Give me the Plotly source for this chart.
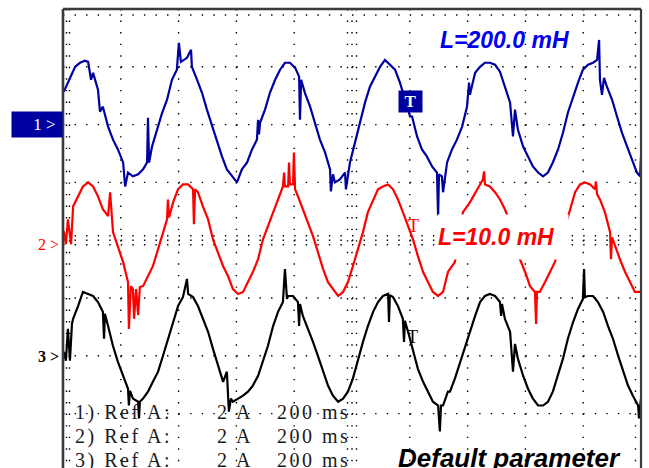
import plotly.graph_objects as go

# ---------------- data ----------------
# time in ms (200 ms/div), current in A (2 A/div)
t_ch1 = [3,24,42,59,76,87,97,104,121,128,138,156,173,190,208,215,225,242,260,277,291,294,298,308,325,343,360,377,394,401,408,429,443,446,464,481,498,516,533,550,567,585,602,619,637,654,671,675,678,682,699,716,734,751,768,785,803,817,820,824,837,855,872,889,907,924,927,934,941,958,976,979,993,1010,1028,1045,1062,1080,1097,1114,1131,1149,1166,1183,1201,1208,1225,1242,1259,1277,1294,1298,1301,1311,1315,1329,1346,1363,1381,1398,1405,1408,1426,1443,1460,1477,1495,1512,1529,1547,1557,1564,1574,1592,1609,1626,1644,1661,1678,1695,1713,1730,1747,1765,1782,1799,1817,1834,1848,1855,1858,1865,1872,1882,1900,1917,1934,1952,1969,1986,1997,2000]
i_ch1 = [1.14,1.62,2.00,2.14,2.21,2.17,1.55,1.79,1.21,0.45,0.62,-0.07,-0.52,-0.86,-1.31,-2.14,-1.66,-1.79,-1.72,-1.55,-1.31,0.24,-1.31,-0.76,-0.17,0.41,0.86,1.55,1.90,2.83,2.17,2.31,2.59,2.00,1.55,1.10,0.52,-0.07,-0.62,-1.10,-1.55,-1.79,-2.00,-1.55,-1.31,-0.86,-0.52,0.17,-0.34,0.07,0.52,1.10,1.55,1.90,2.14,2.14,1.97,1.66,0.17,1.55,1.10,0.62,0.07,-0.52,-0.97,-1.55,-2.31,-1.72,-2.00,-1.90,-1.66,-2.24,-1.31,-0.62,0.17,0.76,1.31,1.66,2.00,2.24,2.07,1.90,1.45,0.86,0.28,0.28,-0.41,-0.86,-1.10,-1.45,-1.66,-3.17,-1.72,-1.79,-2.34,-1.31,-0.86,-0.52,-0.07,0.62,1.45,1.03,1.79,2.00,2.14,2.14,2.07,1.83,1.31,0.76,-0.41,0.52,-0.17,-0.76,-1.10,-1.45,-1.66,-1.79,-1.66,-1.31,-0.86,-0.28,0.41,0.97,1.45,1.90,2.07,2.14,2.24,2.93,1.55,1.03,1.62,1.31,0.86,0.28,-0.28,-0.76,-1.21,-1.66,-1.79,-1.10]

t_ch2 = [3,10,17,28,35,52,69,87,104,121,138,156,163,173,190,208,225,228,235,242,246,253,260,266,277,294,311,329,346,360,363,367,381,398,415,433,450,453,457,467,484,502,519,536,554,571,588,606,623,640,657,675,692,709,727,744,761,765,768,779,782,785,796,799,803,813,830,848,865,882,900,917,934,952,969,986,1003,1021,1038,1055,1073,1090,1107,1125,1142,1159,1176,1194,1211,1228,1246,1263,1280,1298,1315,1332,1356,1370,1384,1408,1432,1453,1457,1460,1477,1495,1512,1529,1554,1567,1581,1599,1616,1633,1637,1640,1650,1668,1685,1702,1720,1737,1754,1772,1789,1806,1824,1841,1844,1848,1858,1875,1893,1896,1900,1910,1927,1945,1962,1979,2000]
i_ch2 = [0.31,-0.14,0.72,-0.14,1.17,1.52,1.86,2.00,1.86,1.52,1.07,0.83,1.66,0.28,-0.21,-0.76,-1.45,-3.07,-1.59,-1.69,-2.72,-1.69,-2.59,-1.62,-1.59,-1.24,-0.90,-0.31,0.28,0.72,1.41,0.79,1.31,1.76,1.93,1.93,1.76,0.55,1.76,1.66,1.17,0.72,0.03,-0.41,-0.90,-1.24,-1.69,-1.86,-1.79,-1.45,-1.10,-0.66,0.03,0.48,0.97,1.41,1.86,2.34,1.86,1.86,2.69,1.93,1.93,3.03,1.76,1.52,1.07,0.62,0.14,-0.41,-1.00,-1.45,-1.69,-1.93,-1.79,-1.45,-0.90,-0.31,0.28,0.97,1.41,1.76,1.86,1.93,1.76,1.41,0.97,0.48,0.03,-0.55,-1.10,-1.45,-1.79,-1.93,-1.79,-1.10,-0.76,0.03,0.97,1.31,1.76,2.10,2.38,1.93,1.86,1.66,1.41,1.07,0.45,-0.14,-0.66,-1.10,-1.59,-1.79,-2.90,-1.79,-1.79,-1.45,-1.10,-0.76,-0.14,0.45,0.97,1.66,1.93,2.00,1.93,1.76,2.03,1.59,1.41,0.97,0.28,-0.66,0.10,-0.21,-0.66,-1.10,-1.45,-1.79,-1.79]

t_ch3 = [3,10,17,24,31,35,52,69,87,104,121,138,142,145,156,173,190,208,225,228,232,242,260,263,266,277,294,311,329,346,363,381,398,415,429,433,450,467,484,502,519,536,554,567,571,574,581,588,606,623,640,657,675,692,709,727,744,761,768,775,779,796,813,817,820,830,848,865,882,900,917,934,952,969,986,1003,1021,1038,1055,1073,1090,1107,1125,1128,1131,1142,1159,1176,1180,1183,1194,1211,1228,1246,1263,1280,1298,1304,1308,1315,1332,1339,1356,1374,1391,1408,1426,1443,1460,1477,1495,1512,1516,1519,1529,1547,1557,1564,1574,1592,1609,1626,1644,1661,1678,1695,1713,1730,1747,1765,1782,1799,1803,1806,1817,1834,1851,1869,1886,1903,1921,1938,1955,1972,1990,1993,2000]
i_ch3 = [0.14,-0.17,0.93,-0.17,1.10,1.28,1.72,2.21,2.14,2.07,1.86,1.52,0.59,1.45,1.03,0.34,-0.21,-0.69,-1.14,-1.72,-1.21,-1.48,-1.59,-2.17,-1.59,-1.48,-1.24,-0.90,-0.55,0.00,0.59,1.17,1.72,2.03,2.66,2.14,2.03,1.72,1.28,0.83,0.24,-0.34,-0.90,-0.55,-1.24,-1.93,-1.48,-1.59,-1.48,-1.38,-1.24,-1.03,-0.69,-0.21,0.34,1.03,1.52,1.86,3.00,1.97,2.07,2.07,1.86,1.03,1.79,1.38,0.93,0.48,0.00,-0.55,-1.03,-1.38,-1.59,-1.48,-1.24,-0.79,-0.10,0.48,1.03,1.52,1.86,2.07,2.14,1.17,2.10,2.03,1.72,1.28,0.48,1.21,0.83,0.14,-0.45,-0.90,-1.24,-1.59,-1.72,-2.62,-1.72,-1.72,-1.24,-1.24,-0.79,-0.21,0.34,0.83,1.38,1.86,2.07,2.14,2.07,1.86,1.38,1.79,1.28,0.83,-0.55,0.41,-0.10,-0.69,-1.14,-1.48,-1.72,-1.72,-1.59,-1.24,-0.69,-0.10,0.59,1.17,1.62,1.97,3.00,2.03,2.07,2.07,1.86,1.52,1.03,0.59,0.00,-0.55,-1.03,-1.38,-1.72,-2.17,-1.48]

channel_labels = ["1 >", "2 >", "3 >"]
inductance_labels = ["L=200.0 mH", "L=10.0 mH"]
footer_label = "Default parameter"
ref_rows = [("1) Ref A:", "2 A", "200 ms"),
            ("2) Ref A:", "2 A", "200 ms"),
            ("3) Ref A:", "2 A", "200 ms")]

# ---------------- layout constants ----------------
W, H = 649, 468
PL, PR, PT, PB = 63, 641, 9, 468          # plot area in pixels
DIV = 57.8                                 # pixels per division
A_PER_DIV = 2.0
T_PER_DIV = 200.0
ZERO_DIV = [2, 4, 6]                       # channel ground levels, divisions from top

NAVY = "#0000A0"
RED = "#FF0000"
GRID = "#000000"

def pxx(x):
    return (x - PL) / (PR - PL)

def pxy(y):
    return 1 - (y - PT) / (PB - PT)

def ch_range(zdiv):
    zero_px = PT + zdiv * DIV
    a_per_px = A_PER_DIV / DIV
    return [-(PB - zero_px) * a_per_px, (zero_px - PT) * a_per_px]

fig = go.Figure()
fig.add_trace(go.Scatter(x=t_ch1, y=i_ch1, yaxis="y2", mode="lines",
                         line=dict(color=NAVY, width=2.2), hoverinfo="skip"))
fig.add_trace(go.Scatter(x=t_ch2, y=i_ch2, yaxis="y", mode="lines",
                         line=dict(color=RED, width=2.2), hoverinfo="skip"))
fig.add_trace(go.Scatter(x=t_ch3, y=i_ch3, yaxis="y3", mode="lines",
                         line=dict(color="#000000", width=2.2), hoverinfo="skip"))

hidden = dict(visible=False, showgrid=False, zeroline=False, fixedrange=True)

# ---------------- graticule (dotted) ----------------
minor = DIV / 5
dash = "1.4px,%.2fpx" % (minor - 1.4)
shapes = []

def vline(xp, color=GRID, width=1.4, d=dash, y0=PT, y1=PB):
    shapes.append(dict(type="line", xref="paper", yref="paper",
                       x0=pxx(xp), x1=pxx(xp), y0=pxy(y0), y1=pxy(y1),
                       line=dict(color=color, width=width, dash=d), layer="below"))

def hline(yp, color=GRID, width=1.4, d=dash, x0=PL, x1=PR):
    shapes.append(dict(type="line", xref="paper", yref="paper",
                       x0=pxx(x0), x1=pxx(x1), y0=pxy(yp), y1=pxy(yp),
                       line=dict(color=color, width=width, dash=d), layer="below"))

for k in range(1, 10):
    vline(PL + k * DIV)
for k in range(1, 8):
    hline(PT + k * DIV)
# centre cross ticks
cx, cy = PL + 5 * DIV, PT + 4 * DIV
for off in (-4.5, 4.5):
    vline(cx + off)
    hline(cy + off)
# edge ticks
hline(PT + 6)
vline(PL + 3.5)
vline(PL + 6.5)
vline(PR - 5.5)

# borders
border = "#3a3a3a"
shapes.append(dict(type="line", xref="paper", yref="paper", x0=0, x1=0, y0=-0.05, y1=1,
                   line=dict(color=border, width=2.6)))
shapes.append(dict(type="line", xref="paper", yref="paper", x0=0, x1=1, y0=1, y1=1,
                   line=dict(color=border, width=2.6)))
shapes.append(dict(type="line", xref="paper", yref="paper", x0=1, x1=1, y0=-0.05, y1=1,
                   line=dict(color=border, width=2.2)))

# ---------------- annotations ----------------
anns = []

def ann(text, x, y, **kw):
    d = dict(text=text, x=pxx(x), y=pxy(y), xref="paper", yref="paper",
             showarrow=False)
    d.update(kw)
    anns.append(d)

serif = "Liberation Serif"
sans = "Liberation Sans"

# channel markers
ann(channel_labels[0] + "\u2009", PL, PT + ZERO_DIV[0] * DIV, xanchor="right", yanchor="middle",
    width=44, height=19, borderpad=3, bgcolor=NAVY, align="right",
    font=dict(family=serif, size=17, color="#FFFFFF"))
ann(channel_labels[1], 48, PT + ZERO_DIV[1] * DIV + 4, xanchor="center", yanchor="middle",
    font=dict(family=serif, size=16, color=RED))
ann(channel_labels[2], 48, PT + ZERO_DIV[2] * DIV + 1, xanchor="center", yanchor="middle",
    font=dict(family=serif, size=16, color="#000000", weight="bold"))

# trigger markers
ann("T", 410.5, 102, xanchor="center", yanchor="middle", width=19, height=17, borderpad=2,
    bgcolor=NAVY, font=dict(family=serif, size=17, color="#FFFFFF", weight="bold"))

# inductance labels
ann(inductance_labels[0], 505, 40, xanchor="center", yanchor="middle",
    font=dict(family=sans, size=23, color="#0000F0", weight="bold", style="italic"))
ann(inductance_labels[1], 437, 237, xanchor="left", yanchor="middle", align="left",
    width=130, height=44, borderpad=0, bgcolor="#FFFFFF",
    font=dict(family=sans, size=23, color=RED, weight="bold", style="italic"))

ann("T", 413, 226, xanchor="center", yanchor="middle",
    font=dict(family=serif, size=18, color=RED))
ann("T", 412, 337, xanchor="center", yanchor="middle",
    font=dict(family=serif, size=18, color="#000000"))

ann(footer_label, 509, 458, xanchor="center", yanchor="middle",
    font=dict(family=sans, size=26, color="#000000", weight="bold", style="italic"))

# reference rows
ls = "letter-spacing:2.5px"
for r, (a, b, c) in enumerate(ref_rows):
    yy = 412 + 24 * r
    for txt, xl in ((a, 73), (b, 215), (c, 275)):
        ann('<span style="%s">%s</span>' % (ls, txt), xl, yy, xanchor="left", yanchor="middle",
            font=dict(family=serif, size=20, color="#1a1a1a"))

fig.update_layout(
    width=W, height=H,
    margin=dict(l=PL, r=W - PR, t=PT, b=H - PB, pad=0),
    paper_bgcolor="#FFFFFF", plot_bgcolor="#FFFFFF",
    showlegend=False,
    xaxis=dict(range=[0, 10 * T_PER_DIV], **hidden),
    yaxis=dict(range=ch_range(ZERO_DIV[1]), **hidden),
    yaxis2=dict(range=ch_range(ZERO_DIV[0]), overlaying="y", **hidden),
    yaxis3=dict(range=ch_range(ZERO_DIV[2]), overlaying="y", **hidden),
    shapes=shapes,
    annotations=anns,
)

fig.write_html("out.html", config=dict(displayModeBar=False),
               post_script="document.body.style.margin='0';document.body.style.overflow='hidden';")
